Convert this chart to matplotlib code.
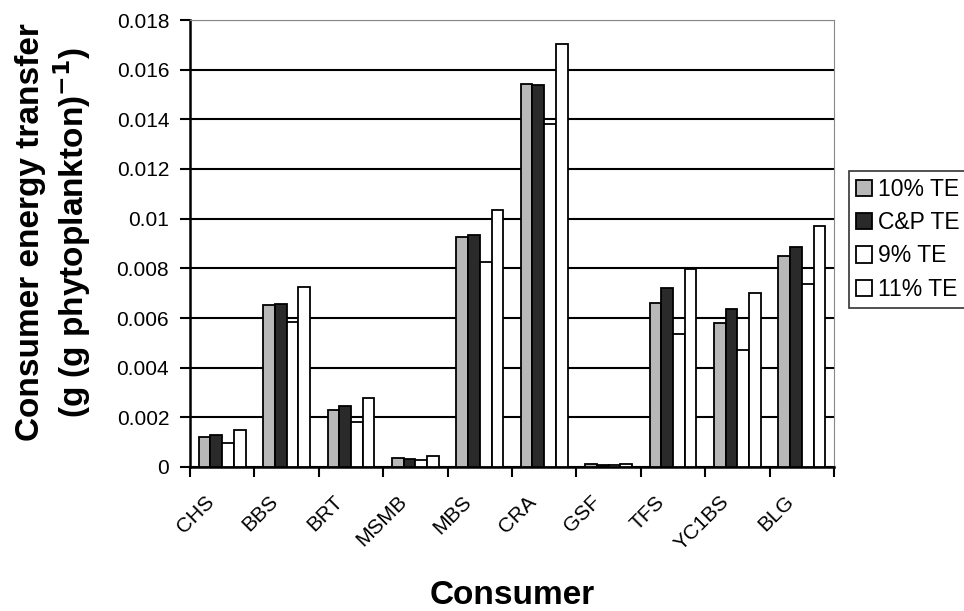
import numpy as np
import matplotlib
matplotlib.use("Agg")
import matplotlib.pyplot as plt
from matplotlib.ticker import FixedLocator, NullFormatter

plt.rcParams["font.family"] = ["Liberation Sans", "DejaVu Sans"]

# ── data ──────────────────────────────────────────────────────
consumers = ["CHS", "BBS", "BRT", "MSMB", "MBS", "CRA", "GSF", "TFS", "YC1BS", "BLG"]
te_10 = [0.00121, 0.00652, 0.00228, 0.00035, 0.00928, 0.01541, 0.00012, 0.00659, 0.00579, 0.00851]
te_cp = [0.00129, 0.00655, 0.00247, 0.00031, 0.00933, 0.01537, 0.00010, 0.00722, 0.00636, 0.00887]
te_9 = [0.00097, 0.00584, 0.00182, 0.00027, 0.00827, 0.01383, 0.00009, 0.00534, 0.00471, 0.00736]
te_11 = [0.00149, 0.00725, 0.00277, 0.00046, 0.01035, 0.01705, 0.00013, 0.00796, 0.00699, 0.00971]

series = [
    ("10% TE", te_10, "#b8b8b8"),
    ("C&P TE", te_cp, "#2a2a2a"),
    ("9% TE", te_9, "white"),
    ("11% TE", te_11, "white"),
]
yticks = [0, 0.002, 0.004, 0.006, 0.008, 0.01, 0.012, 0.014, 0.016, 0.018]
ytick_labels = ["0", "0.002", "0.004", "0.006", "0.008", "0.01", "0.012", "0.014", "0.016", "0.018"]

# ── figure ───────────────────────────────────────────────────
fig = plt.figure(figsize=(9.64, 6.11), dpi=100)
ax = fig.add_axes([190 / 964, 1 - 467 / 611, 644 / 964, 447 / 611])

x = np.arange(len(consumers))
w = 0.182
for i, (name, vals, col) in enumerate(series):
    ax.bar(x + (i - 1.5) * w, vals, width=w, color=col, edgecolor="black",
           linewidth=1.3, label=name, zorder=3)

ax.set_xlim(-0.5, len(consumers) - 0.5)
ax.set_ylim(0, 0.018)
ax.set_yticks(yticks)
ax.set_yticklabels(ytick_labels, fontsize=15)
ax.yaxis.grid(True, color="black", lw=1.5, zorder=0)
ax.set_axisbelow(True)

# category ticks at the boundaries; labels sit a little left of each centre
ax.set_xticks(x - 0.28)
ax.set_xticklabels(consumers, fontsize=15, rotation=45, ha="right",
                   rotation_mode="anchor")
ax.xaxis.set_minor_locator(FixedLocator(np.arange(-0.5, len(consumers), 1.0)))
ax.xaxis.set_minor_formatter(NullFormatter())
ax.tick_params(axis="x", which="major", length=0, pad=18)
ax.tick_params(axis="x", which="minor", length=7, width=1.5, direction="out")
ax.tick_params(axis="y", length=7, width=1.5, direction="out", pad=8)

for side in ["left", "bottom"]:
    ax.spines[side].set_linewidth(1.8)
for side in ["top", "right"]:
    ax.spines[side].set_color("#888888")
    ax.spines[side].set_linewidth(0.8)

fig.text(54 / 964, 1 - 232 / 611,
         "Consumer energy transfer\n(g (g phytoplankton)$^{\\mathbf{-1}}$)",
         rotation=90, ha="center", va="center", multialignment="center",
         fontsize=24, fontweight="bold", linespacing=1.15)
fig.text(512 / 964, 1 - 595 / 611, "Consumer", ha="center", va="center",
         fontsize=24, fontweight="bold")

leg = ax.legend(loc="upper left", bbox_to_anchor=(849 / 964, 1 - 171 / 611),
                bbox_transform=fig.transFigure, fontsize=16.5, frameon=True,
                fancybox=False, edgecolor="black", handlelength=0.7,
                handleheight=0.7, handletextpad=0.25, borderpad=0.3,
                labelspacing=0.45, borderaxespad=0)
leg.get_frame().set_linewidth(1.2)

fig.savefig("out.png", dpi=100)
